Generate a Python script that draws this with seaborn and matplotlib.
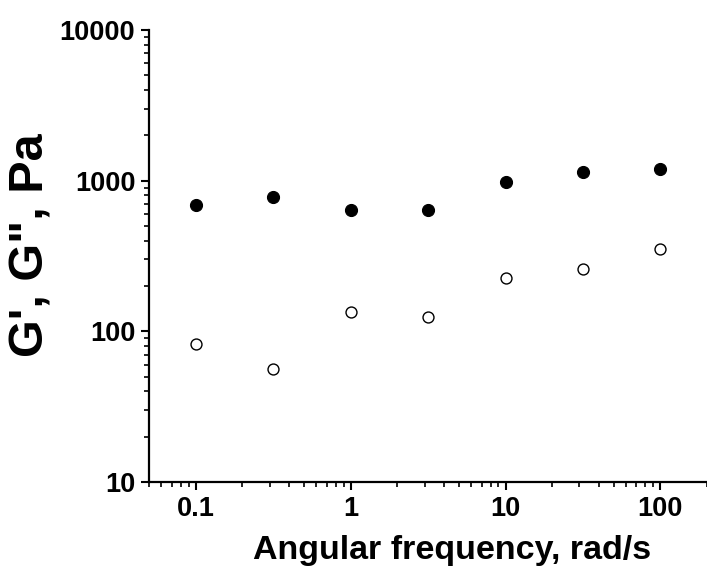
import matplotlib
matplotlib.use("Agg")
import matplotlib.pyplot as plt
import matplotlib.ticker as mticker
import seaborn as sns
import pandas as pd

# Frequency sweep: storage (filled) and loss (open) modulus
freq = [0.1, 0.316, 1.0, 3.16, 10.0, 31.6, 100.0]
g_storage = [693, 780, 643, 643, 980, 1135, 1202]
g_loss = [82.9, 56.5, 133.6, 124.7, 226, 259, 354]

x_ticks = [0.1, 1, 10, 100]
x_ticklabels = ["0.1", "1", "10", "100"]
y_ticks = [10, 100, 1000, 10000]
y_ticklabels = ["10", "100", "1000", "10000"]

df = pd.DataFrame({"freq": freq, "storage": g_storage, "loss": g_loss})

sns.set_style("ticks", {"text.color": "black", "axes.labelcolor": "black",
                        "xtick.color": "black", "ytick.color": "black",
                        "axes.edgecolor": "black"})
plt.rcParams["font.family"] = ["Liberation Sans", "DejaVu Sans"]
plt.rcParams["font.weight"] = "bold"

fig = plt.figure(figsize=(7.07, 5.75), dpi=100)
ax = fig.add_axes([0.211, 0.1617, 0.789, 0.7861])

sns.scatterplot(data=df, x="freq", y="storage", ax=ax, s=75, color="black",
                edgecolor="black", linewidth=0.8, zorder=3)
sns.scatterplot(data=df, x="freq", y="loss", ax=ax, s=62, facecolor="white",
                edgecolor="black", linewidth=1.0, zorder=3)

ax.set_xscale("log")
ax.set_yscale("log")
ax.set_xlim(0.05, 200)
ax.set_ylim(10, 10000)

ax.set_xticks(x_ticks)
ax.set_xticklabels(x_ticklabels)
ax.set_yticks(y_ticks)
ax.set_yticklabels(y_ticklabels)
ax.xaxis.set_minor_locator(mticker.LogLocator(base=10, subs=range(2, 10)))
ax.yaxis.set_minor_locator(mticker.LogLocator(base=10, subs=range(2, 10)))
ax.xaxis.set_minor_formatter(mticker.NullFormatter())
ax.yaxis.set_minor_formatter(mticker.NullFormatter())

sns.despine(ax=ax)
for side in ["left", "bottom"]:
    ax.spines[side].set_linewidth(1.6)
ax.tick_params(which="major", length=6, width=1.5, labelsize=19.5, pad=4,
               colors="black")
ax.tick_params(which="minor", length=3.5, width=1.2, colors="black")
for lab in ax.get_xticklabels() + ax.get_yticklabels():
    lab.set_fontweight("bold")

ax.set_xlabel("Angular frequency, rad/s", fontsize=24.5, fontweight="bold",
              color="black")
ax.set_ylabel("G', G\", Pa", fontsize=35, fontweight="bold", color="black")
ax.xaxis.set_label_coords(0.543, -0.118)
ax.yaxis.set_label_coords(-0.172, 0.524)

fig.savefig("out.png", dpi=100)
